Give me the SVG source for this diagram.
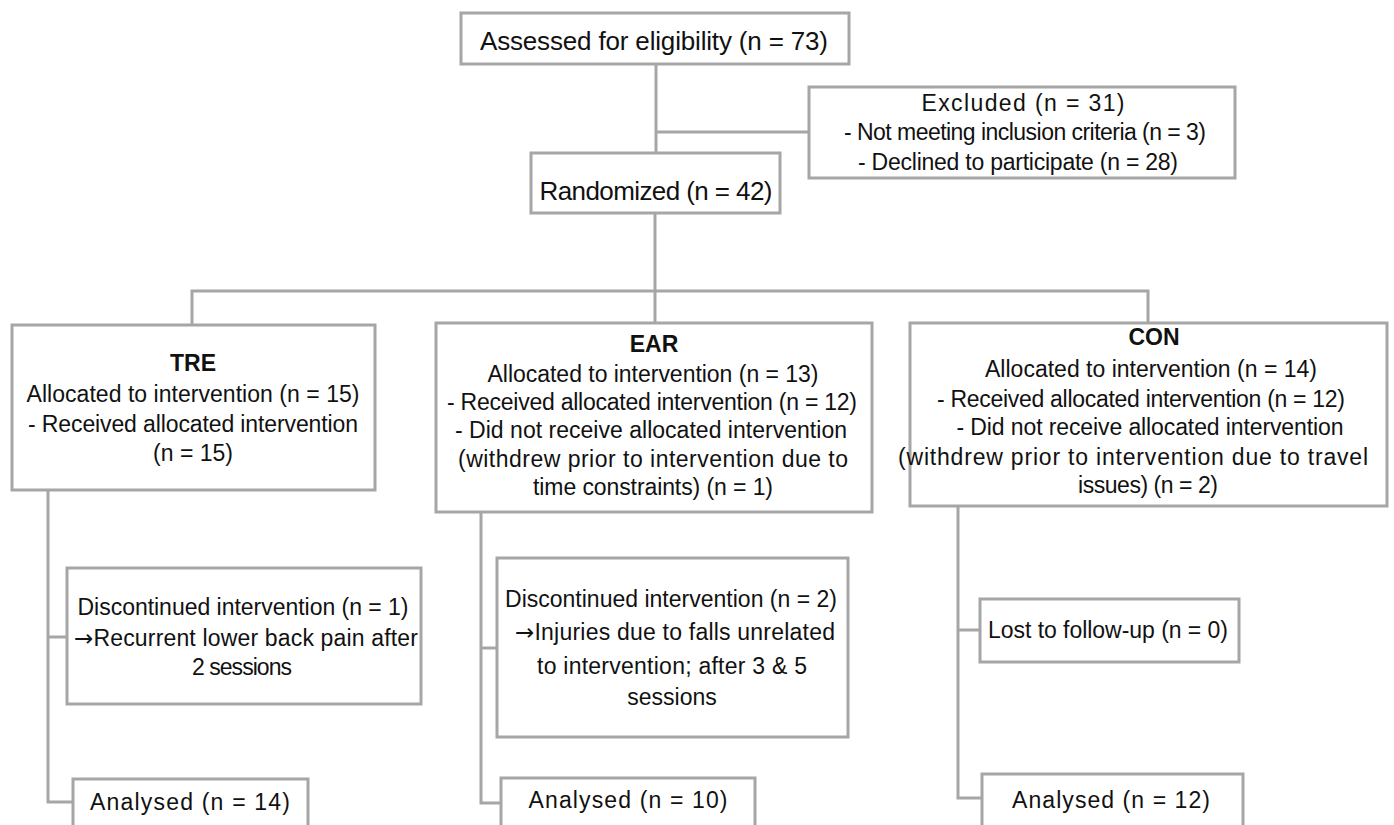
<svg xmlns="http://www.w3.org/2000/svg" width="1394" height="825" viewBox="0 0 1394 825">
  <style>
    .box { fill: #ffffff; stroke: #a6a6a6; stroke-width: 3; }
    .link { fill: none; stroke: #a6a6a6; stroke-width: 3; }
    text { font-family: "Liberation Sans", Arial, sans-serif; fill: #111111; text-anchor: middle; }
    .big { font-size: 26px; }
    .t { font-size: 23px; }
    .head { font-size: 23px; font-weight: bold; }
    .arr { font-family: "DejaVu Sans", sans-serif; }
  </style>

  <rect width="1394" height="825" fill="#ffffff"/>

  <!-- connectors -->
  <g id="connectors">
    <path class="link" d="M656 64 V153"/>
    <path class="link" d="M656 132 H809"/>
    <path class="link" d="M655 213 V323"/>
    <path class="link" d="M192 325 V291 H1148 V323"/>
    <!-- TRE branch -->
    <path class="link" d="M48 490 V802 H73"/>
    <path class="link" d="M48 637 H67"/>
    <!-- EAR branch -->
    <path class="link" d="M481 512 V803 H501"/>
    <path class="link" d="M481 648 H497"/>
    <!-- CON branch -->
    <path class="link" d="M958 506 V798 H982"/>
    <path class="link" d="M958 630 H980"/>
  </g>

  <g id="assessed">
    <rect class="box" x="461" y="13" width="388" height="51"/>
    <text class="big" x="654" y="50" textLength="348" lengthAdjust="spacing">Assessed for eligibility (n = 73)</text>
  </g>

  <g id="excluded">
    <rect class="box" x="809" y="87" width="426" height="91"/>
    <text class="t" x="1023" y="111" textLength="203" lengthAdjust="spacing">Excluded (n = 31)</text>
    <text class="t" x="1025" y="140" textLength="362" lengthAdjust="spacing">- Not meeting inclusion criteria (n = 3)</text>
    <text class="t" x="1018" y="170" textLength="320" lengthAdjust="spacing">- Declined to participate (n = 28)</text>
  </g>

  <g id="randomized">
    <rect class="box" x="531" y="153" width="249" height="60"/>
    <text class="big" x="656" y="200" textLength="233" lengthAdjust="spacing">Randomized (n = 42)</text>
  </g>

  <g id="tre">
    <rect class="box" x="12" y="325" width="363" height="165"/>
    <text class="head" x="193" y="371">TRE</text>
    <text class="t" x="193" y="402" textLength="333" lengthAdjust="spacing">Allocated to intervention (n = 15)</text>
    <text class="t" x="193" y="432" textLength="330" lengthAdjust="spacing">- Received allocated intervention</text>
    <text class="t" x="193" y="461">(n = 15)</text>
  </g>

  <g id="ear">
    <rect class="box" x="436" y="323" width="436" height="189"/>
    <text class="head" x="654" y="352">EAR</text>
    <text class="t" x="653" y="382" textLength="331" lengthAdjust="spacing">Allocated to intervention (n = 13)</text>
    <text class="t" x="652" y="410" textLength="410" lengthAdjust="spacing">- Received allocated intervention (n = 12)</text>
    <text class="t" x="651" y="438" textLength="392" lengthAdjust="spacing">- Did not receive allocated intervention</text>
    <text class="t" x="653" y="467" textLength="390" lengthAdjust="spacing">(withdrew prior to intervention due to</text>
    <text class="t" x="653" y="495" textLength="240" lengthAdjust="spacing">time constraints) (n = 1)</text>
  </g>

  <g id="con">
    <rect class="box" x="910" y="323" width="477" height="183"/>
    <text class="head" x="1154" y="345">CON</text>
    <text class="t" x="1151" y="377" textLength="332" lengthAdjust="spacing">Allocated to intervention (n = 14)</text>
    <text class="t" x="1141" y="407" textLength="408" lengthAdjust="spacing">- Received allocated intervention (n = 12)</text>
    <text class="t" x="1150" y="435" textLength="387" lengthAdjust="spacing">- Did not receive allocated intervention</text>
    <text class="t" x="1133" y="465" textLength="470" lengthAdjust="spacing">(withdrew prior to intervention due to travel</text>
    <text class="t" x="1148" y="493" textLength="140" lengthAdjust="spacing">issues) (n = 2)</text>
  </g>

  <g id="tre-discontinued">
    <rect class="box" x="67" y="568" width="354" height="136"/>
    <text class="t" x="243" y="615" textLength="331" lengthAdjust="spacing">Discontinued intervention (n = 1)</text>
    <text class="t" x="246" y="646" textLength="344" lengthAdjust="spacing"><tspan class="arr">→</tspan>Recurrent lower back pain after</text>
    <text class="t" x="242" y="675" textLength="100" lengthAdjust="spacing">2 sessions</text>
  </g>

  <g id="ear-discontinued">
    <rect class="box" x="497" y="558" width="351" height="179"/>
    <text class="t" x="671" y="607" textLength="332" lengthAdjust="spacing">Discontinued intervention (n = 2)</text>
    <text class="t" x="675" y="640" textLength="320" lengthAdjust="spacing"><tspan class="arr">→</tspan>Injuries due to falls unrelated</text>
    <text class="t" x="672" y="674" textLength="270" lengthAdjust="spacing">to intervention; after 3 &amp; 5</text>
    <text class="t" x="672" y="705">sessions</text>
  </g>

  <g id="con-lost">
    <rect class="box" x="980" y="599" width="259" height="63"/>
    <text class="t" x="1108" y="638" textLength="240" lengthAdjust="spacing">Lost to follow-up (n = 0)</text>
  </g>

  <g id="tre-analysed">
    <rect class="box" x="73" y="779" width="235" height="60"/>
    <text class="t" x="190" y="810" textLength="200" lengthAdjust="spacing">Analysed (n = 14)</text>
  </g>

  <g id="ear-analysed">
    <rect class="box" x="501" y="778" width="254" height="60"/>
    <text class="t" x="628" y="808" textLength="199" lengthAdjust="spacing">Analysed (n = 10)</text>
  </g>

  <g id="con-analysed">
    <rect class="box" x="982" y="774" width="261" height="60"/>
    <text class="t" x="1111" y="808" textLength="198" lengthAdjust="spacing">Analysed (n = 12)</text>
  </g>
</svg>
